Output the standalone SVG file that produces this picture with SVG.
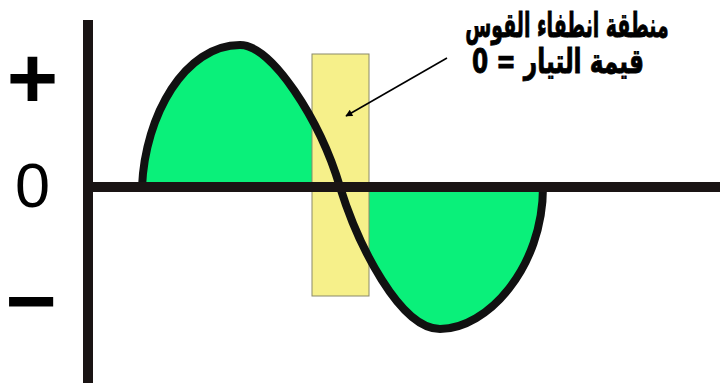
<svg xmlns="http://www.w3.org/2000/svg" width="720" height="385" viewBox="0 0 720 385">
<style>
.sign{font-family:"Liberation Sans",Arial,sans-serif;font-weight:bold;font-size:88px;fill:#000;text-anchor:middle}
.zero{font-family:"Liberation Sans",Arial,sans-serif;font-size:63px;fill:#000;text-anchor:middle}
.ar{font-family:"DejaVu Sans","Noto Sans",sans-serif;font-weight:bold;font-size:34px;fill:#000;text-anchor:middle;stroke:#000;stroke-width:0.9}
.axis{stroke:#1a1414;stroke-width:10;fill:none}
.wave{stroke:#111;stroke-width:8;fill:none;stroke-linejoin:round}
</style>
<defs>
<marker id="ah" viewBox="0 0 10 10" refX="9" refY="5" markerWidth="9" markerHeight="7" orient="auto" markerUnits="userSpaceOnUse">
<path d="M0,0 L10,5 L0,10 z" fill="#000"/>
</marker>
</defs>
<rect width="720" height="385" fill="#fff"/>
<g id="wave-fill">
<path d="M142,187 C145,115 185,45 240,45 C272,45 320,120 340,187 Z" fill="#0af07a"/>
<path d="M340,187 C358,245 400,329 440,329 C487,329 543,268 543,187 Z" fill="#0af07a"/>
</g>
<g id="arc-zone">
<rect x="312" y="54" width="57" height="242" fill="#f6f08a" stroke="#8a8a6a" stroke-width="1"/>
</g>
<g id="wave">
<path class="wave" d="M142,187 C145,115 185,45 240,45 C272,45 320,120 340,187 C358,245 400,329 440,329 C487,329 543,268 543,187"/>
</g>
<g id="axes">
<line class="axis" x1="88" y1="20" x2="88" y2="383"/>
<line class="axis" x1="88" y1="187" x2="720" y2="187"/>
</g>
<g id="labels">
<text class="sign" x="32.5" y="108">+</text>
<text class="zero" x="32.5" y="207">0</text>
<text class="sign" x="31" y="331">−</text>
</g>
<g id="note">
<text class="ar" transform="translate(567,37) scale(0.556,1)" direction="rtl">منطقة انطفاء القوس</text>
<text class="ar" transform="translate(558,73) scale(0.684,1)" direction="rtl">قيمة التيار = 0</text>
</g>
<g id="connectors">
<line x1="447" y1="58" x2="346" y2="116" stroke="#000" stroke-width="1.6" marker-end="url(#ah)"/>
</g>
</svg>
